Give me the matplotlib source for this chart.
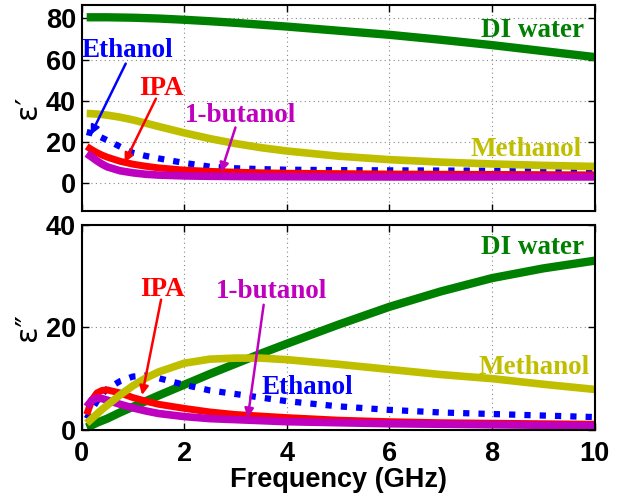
import matplotlib
matplotlib.use("Agg")
import matplotlib.pyplot as plt

# Frequency samples (GHz)
freq = [0.1, 0.2, 0.3, 0.4, 0.5, 0.75, 1.0, 1.25, 1.5, 2.0, 2.5, 3.0, 3.5, 4.0,
        5.0, 6.0, 7.0, 8.0, 9.0, 10.0]

# Real part of permittivity
eps1_water = [80.5, 80.5, 80.5, 80.5, 80.5, 80.4, 80.3, 80.1, 79.9, 79.3, 78.6,
              77.8, 76.9, 76.0, 74.0, 72.0, 69.6, 67.0, 64.1, 61.2]
eps1_methanol = [33.8, 33.7, 33.5, 33.3, 33.0, 32.0, 30.7, 29.1, 27.5, 24.4, 21.6,
                 19.2, 17.2, 15.6, 13.1, 11.4, 10.2, 9.3, 8.6, 8.1]
eps1_ethanol = [24.8, 24.2, 23.2, 22.0, 20.8, 17.7, 14.7, 13.2, 12.0, 9.8, 8.0,
                7.2, 6.8, 6.5, 6.3, 6.2, 6.1, 6.0, 6.0, 6.0]
eps1_ipa = [17.8, 16.2, 14.8, 13.6, 12.6, 10.6, 9.2, 8.2, 7.4, 6.3, 5.7, 5.3,
            5.0, 4.8, 4.6, 4.4, 4.3, 4.2, 4.1, 4.0]
eps1_butanol = [14.3, 12.6, 10.8, 9.2, 7.9, 6.0, 5.0, 4.3, 3.9, 3.5, 3.3, 3.2,
                3.1, 3.1, 3.0, 3.0, 3.0, 3.0, 3.0, 3.0]

# Imaginary part of permittivity
eps2_water = [0.5, 0.9, 1.4, 1.8, 2.2, 3.4, 4.5, 5.6, 6.7, 8.8, 10.9, 12.9, 14.9,
              16.8, 20.5, 24.0, 27.0, 29.6, 31.5, 33.0]
eps2_methanol = [1.3, 2.2, 3.1, 4.0, 4.8, 6.8, 8.6, 10.1, 11.3, 13.0, 13.8, 14.0,
                 14.0, 13.7, 12.8, 11.8, 10.8, 10.0, 8.9, 7.9]
eps2_ethanol = [2.2, 4.0, 5.6, 7.0, 8.0, 9.5, 10.4, 10.6, 10.1, 8.8, 7.7, 7.0,
                6.3, 5.6, 4.6, 3.9, 3.4, 3.1, 2.8, 2.5]
eps2_ipa = [3.0, 5.8, 7.2, 7.7, 7.8, 7.2, 6.3, 5.6, 5.0, 4.2, 3.5, 3.0, 2.7,
            2.4, 1.9, 1.6, 1.4, 1.3, 1.2, 1.1]
eps2_butanol = [4.5, 5.8, 6.2, 6.1, 5.8, 5.0, 4.3, 3.7, 3.2, 2.6, 2.2, 2.0, 1.8,
                1.6, 1.4, 1.2, 1.1, 1.0, 0.9, 0.8]

C_WATER = "#008000"
C_METH = "#BFBF00"
C_ETH = "#0000FF"
C_IPA = "#FF0000"
C_BUT = "#BF00BF"

TICK_FONT = dict(family="Liberation Sans", weight="bold", size=19.5)
LABEL_FONT = dict(family="Liberation Serif", weight="bold", size=19.5)

fig = plt.figure(figsize=(6.18, 4.93), dpi=100)
ax1 = fig.add_axes([0.132, 0.573, 0.830, 0.417])
ax2 = fig.add_axes([0.132, 0.128, 0.830, 0.416])


def draw_curves(ax, water, meth, eth, ipa, but):
    kw = dict(solid_capstyle="butt")
    ax.plot(freq, water, color=C_WATER, lw=6, **kw)
    ax.plot(freq, eth, color=C_ETH, lw=4.5, linestyle=(0, (1.0, 1.45)),
            dash_capstyle="butt")
    ax.plot(freq, ipa, color=C_IPA, lw=5, **kw)
    ax.plot(freq, but, color=C_BUT, lw=5.5, **kw)
    ax.plot(freq, meth, color=C_METH, lw=5.5, **kw)


def style_axes(ax):
    ax.set_xlim(0, 10)
    ax.set_xticks([0, 2, 4, 6, 8, 10])
    ax.grid(True, linestyle=(0, (1, 3)), color="#888888", lw=0.8)
    ax.tick_params(direction="in", length=5, width=1, top=True, right=True)
    ax.tick_params(axis="x", pad=8)
    ax.tick_params(axis="y", pad=4)
    for s in ax.spines.values():
        s.set_linewidth(1.5)
    for lab in ax.get_xticklabels() + ax.get_yticklabels():
        lab.set_fontfamily(TICK_FONT["family"])
        lab.set_fontweight("bold")
        lab.set_fontsize(TICK_FONT["size"])


def arrow(ax, text_xy, tip_xy, color):
    ax.annotate("", xy=tip_xy, xytext=text_xy,
                arrowprops=dict(arrowstyle="-|>", color=color, lw=1.8,
                                mutation_scale=13, shrinkA=0, shrinkB=0))


# Upper panel: real part
draw_curves(ax1, eps1_water, eps1_methanol, eps1_ethanol, eps1_ipa, eps1_butanol)
ax1.set_ylim(-13.3, 86.5)
ax1.set_yticks([0, 20, 40, 60, 80])
style_axes(ax1)
ax1.set_xticklabels([])
ax1.set_ylabel("ε′", fontsize=22, labelpad=3)

ax1.text(9.8, 74, "DI water", color=C_WATER, ha="right", va="center", **LABEL_FONT)
ax1.text(9.75, 16.3, "Methanol", color=C_METH, ha="right", va="center", **LABEL_FONT)
ax1.text(0.9, 64.4, "Ethanol", color=C_ETH, ha="center", va="center", **LABEL_FONT)
ax1.text(1.55, 46, "IPA", color=C_IPA, ha="center", va="center", **LABEL_FONT)
ax1.text(3.1, 32.7, "1-butanol", color=C_BUT, ha="center", va="center", **LABEL_FONT)
arrow(ax1, (0.86, 58), (0.18, 23.5), C_ETH)
arrow(ax1, (1.45, 41), (0.84, 10), C_IPA)
arrow(ax1, (3.0, 27), (2.72, 5.4), C_BUT)

# Lower panel: imaginary part
draw_curves(ax2, eps2_water, eps2_methanol, eps2_ethanol, eps2_ipa, eps2_butanol)
ax2.set_ylim(0, 40)
ax2.set_yticks([0, 20, 40])
style_axes(ax2)
ax2.set_ylabel("ε″", fontsize=22, labelpad=3)
ax2.set_xlabel("Frequency (GHz)", fontfamily="Liberation Sans", fontweight="bold",
               fontsize=19.5, labelpad=0)

ax2.text(9.8, 35.5, "DI water", color=C_WATER, ha="right", va="center", **LABEL_FONT)
ax2.text(9.9, 12.1, "Methanol", color=C_METH, ha="right", va="center", **LABEL_FONT)
ax2.text(4.4, 8.2, "Ethanol", color=C_ETH, ha="center", va="center", **LABEL_FONT)
ax2.text(1.57, 27.3, "IPA", color=C_IPA, ha="center", va="center", **LABEL_FONT)
ax2.text(3.7, 27.0, "1-butanol", color=C_BUT, ha="center", va="center", **LABEL_FONT)
arrow(ax2, (1.55, 25.4), (1.18, 6.8), C_IPA)
arrow(ax2, (3.55, 24.4), (3.24, 2.4), C_BUT)

fig.savefig("out.png", dpi=100)
